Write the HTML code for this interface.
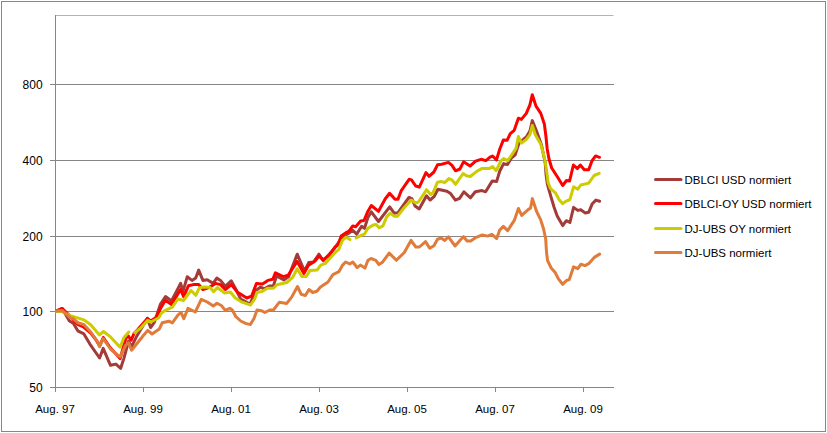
<!DOCTYPE html>
<html><head><meta charset="utf-8"><style>
html,body{margin:0;padding:0;background:#fff;}
body{width:827px;height:433px;overflow:hidden;}
svg{display:block;}
text{font-family:"Liberation Sans",sans-serif;font-size:11.5px;fill:#000;}
</style></head><body>
<svg width="827" height="433" viewBox="0 0 827 433">
<defs><clipPath id="pa"><rect x="55" y="10" width="570" height="380"/></clipPath></defs>
<rect x="1.5" y="1.5" width="824" height="430" fill="#fff" stroke="#878787" stroke-width="1"/>
<line x1="55" y1="15.5" x2="613.5" y2="15.5" stroke="#b4b4b4" stroke-width="1"/>
<g stroke="#868686" stroke-width="1" shape-rendering="crispEdges"><line x1="55" y1="84.5" x2="613.5" y2="84.5"/><line x1="55" y1="160.5" x2="613.5" y2="160.5"/><line x1="55" y1="236.5" x2="613.5" y2="236.5"/><line x1="55" y1="311.5" x2="613.5" y2="311.5"/><line x1="50" y1="84.5" x2="55" y2="84.5"/><line x1="50" y1="160.5" x2="55" y2="160.5"/><line x1="50" y1="236.5" x2="55" y2="236.5"/><line x1="50" y1="311.5" x2="55" y2="311.5"/><line x1="50" y1="387.5" x2="55" y2="387.5"/><line x1="55.5" y1="387" x2="55.5" y2="392"/><line x1="143.5" y1="387" x2="143.5" y2="392"/><line x1="231.5" y1="387" x2="231.5" y2="392"/><line x1="319.5" y1="387" x2="319.5" y2="392"/><line x1="407.5" y1="387" x2="407.5" y2="392"/><line x1="495.5" y1="387" x2="495.5" y2="392"/><line x1="583.5" y1="387" x2="583.5" y2="392"/>
<line x1="55.5" y1="15" x2="55.5" y2="392"/>
<line x1="50" y1="387.5" x2="613.5" y2="387.5"/>
</g>
<g clip-path="url(#pa)" fill="none" stroke-width="3" stroke-linejoin="round" stroke-linecap="round">
<polyline points="55.3,311.5 62.1,308.6 69.4,320.9 73.3,323.3 77.8,330.8 83.9,333.9 89.9,344.1 99.6,358.0 103.2,348.4 110.5,365.3 115.9,364.1 120.7,368.3 123.8,358.6 128.6,341.1 131.6,346.6 137.0,335.7 147.4,318.4 150.6,327.5 154.3,322.4 160.5,304.0 165.5,296.5 171.5,301.0 180.6,283.4 183.0,291.3 187.2,276.8 192.0,280.4 195.7,278.0 198.7,270.1 202.9,280.4 207.2,279.8 213.2,283.4 216.8,278.0 220.5,280.4 225.3,286.4 231.2,280.8 236.0,289.5 240.7,299.2 250.0,304.0 255.8,290.5 260.7,287.1 264.3,288.9 269.7,285.9 273.4,285.9 276.5,276.0 283.8,280.0 288.6,276.7 297.2,254.2 304.5,271.1 308.7,262.6 313.5,262.0 319.0,254.2 323.2,260.8 334.4,248.5 341.2,238.5 346.0,234.6 349.0,233.1 352.8,230.2 356.7,234.1 361.6,226.3 364.5,228.3 367.9,217.6 371.3,211.8 378.5,221.5 389.7,206.9 394.4,213.3 398.0,212.6 408.9,197.5 411.9,198.7 415.0,206.0 419.2,209.0 426.5,195.7 430.1,200.0 434.3,196.3 437.9,189.3 446.9,191.2 450.6,193.6 455.4,200.2 459.6,198.4 463.9,191.8 470.5,197.8 475.3,191.8 482.0,190.6 485.6,191.8 492.3,180.9 496.6,181.6 499.7,171.3 503.6,163.6 507.5,164.5 511.3,158.2 515.2,154.8 519.0,143.1 526.3,137.0 529.9,131.0 532.3,120.6 536.5,131.0 541.5,145.0 545.2,163.0 546.1,175.0 547.4,184.3 551.2,197.6 554.0,207.0 557.2,215.9 562.7,225.6 566.3,220.7 569.9,222.5 573.6,207.4 577.8,210.4 580.8,209.8 585.0,212.9 588.7,212.3 592.3,203.7 595.9,200.1 599.6,201.3" stroke="#A33B38"/><polyline points="55.3,311.5 62.1,308.4 72.3,318.4 78.1,324.7 83.0,326.7 90.7,333.0 96.6,340.7 99.6,346.0 103.3,337.5 110.5,348.0 120.1,358.6 125.8,338.5 128.2,335.8 131.2,340.2 134.2,333.2 137.8,329.6 147.4,318.4 150.6,321.0 156.4,317.3 160.8,307.9 165.4,300.3 171.5,304.6 180.6,289.5 183.6,296.7 188.4,285.8 193.3,284.6 198.7,284.6 202.9,289.5 209.0,287.6 215.6,283.4 220.5,284.6 225.3,289.5 231.3,284.6 237.2,291.9 246.8,298.0 251.6,296.2 256.4,283.5 262.5,284.1 267.9,280.4 272.8,279.2 275.4,272.9 283.3,276.6 288.1,275.3 297.2,261.4 303.9,273.5 308.3,265.5 315.0,261.0 319.0,256.0 323.1,259.8 328.9,255.6 334.6,247.5 338.3,244.5 341.2,236.0 346.0,232.6 349.0,231.2 352.8,225.9 355.7,226.8 360.6,221.0 364.0,220.5 367.4,212.3 371.3,205.5 378.5,211.3 385.3,198.7 389.6,193.3 395.0,199.3 398.0,199.3 401.1,190.9 409.1,179.3 411.5,179.9 415.7,186.0 419.3,187.2 426.0,172.6 429.0,176.3 433.9,172.0 437.5,164.8 441.7,164.2 448.4,162.4 452.0,165.4 455.6,170.8 459.9,169.0 463.5,161.8 470.1,166.0 475.6,161.2 481.0,159.3 485.9,160.6 490.0,157.2 492.5,156.0 496.5,159.9 499.7,149.2 503.3,140.1 507.2,140.2 510.3,133.7 514.2,130.3 518.4,118.2 521.4,119.4 526.3,113.4 529.9,104.9 532.3,94.7 536.0,106.1 540.8,113.4 544.4,124.3 546.0,137.0 547.2,149.0 549.0,159.0 551.7,168.0 557.5,177.0 562.7,185.5 566.5,180.5 569.6,181.0 573.4,165.0 577.4,168.6 580.3,165.0 584.3,169.7 588.7,169.7 591.9,161.0 595.6,155.9 599.5,157.3" stroke="#FF0000"/><polyline points="55.3,311.6 60.7,311.2 71.3,316.0 79.1,318.4 84.0,319.9 90.7,324.7 99.5,334.9 103.5,331.5 110.5,336.9 120.1,347.2 124.0,337.5 128.8,332.0" stroke="#CCCC00"/><polyline points="134.8,332.6 140.5,328.2 147.7,320.2 150.6,322.0 158.6,318.0 161.5,313.0 165.2,310.4 172.3,307.2 178.0,299.0 183.4,300.5 191.0,290.5 195.8,295.3 199.4,287.7 204.7,287.0 210.2,287.6 213.6,291.7 217.5,287.5 224.7,293.1 230.3,292.0 235.3,298.0 242.0,302.2 250.5,305.0 254.6,299.2 257.0,292.5 262.5,291.3 267.3,288.3 273.4,288.3 277.0,284.7 286.8,282.5 292.7,277.4 297.2,268.7 302.0,276.6 306.3,276.6 309.9,270.5 317.2,269.9 320.8,265.1 325.6,263.3 329.3,259.0 335.3,252.4 338.9,249.3 342.4,240.4 346.1,237.2 349.9,239.6" stroke="#CCCC00"/><polyline points="356.2,238.0 361.6,235.1 364.5,234.1 367.9,228.3 373.2,224.9 376.1,224.4 379.0,227.8 382.9,225.9 386.8,216.6 390.2,213.2 394.4,216.2 397.4,216.3 404.1,207.8 411.3,200.0 415.6,203.0 418.6,201.8 426.5,189.7 430.7,194.5 433.1,192.7 437.5,182.2 441.3,181.6 444.9,182.5 448.8,178.6 452.2,180.1 455.5,184.3 463.1,173.5 466.4,175.8 470.3,176.5 476.7,171.3 482.2,168.4 489.5,168.4 492.7,166.6 496.2,170.7 500.8,161.0 503.5,158.5 507.8,160.7 514.2,151.0 516.0,148.6 518.4,136.5 521.4,143.1 526.3,139.5 529.9,134.7 532.3,125.5 535.3,134.7 540.8,144.3 544.4,157.6 546.2,168.0 548.2,183.0 550.6,188.6 555.4,192.8 559.0,199.5 562.7,203.7 565.7,201.3 569.9,199.5 573.6,186.8 577.8,189.2 580.8,185.0 588.7,183.1 594.1,175.5 599.2,173.3" stroke="#CCCC00"/><polyline points="55.3,311.2 62.1,310.4 65.7,313.7 70.6,318.0 73.0,318.3 78.0,322.8 84.0,324.7 90.7,332.0 97.5,341.7 99.6,346.6 103.2,338.7 110.5,349.0 115.3,353.2 120.1,356.8 125.6,345.3 128.6,342.9 131.6,350.2 137.0,343.5 143.4,335.5 147.7,330.4 152.1,334.0 159.3,329.0 162.2,322.8 168.9,321.2 172.3,322.9 178.1,314.8 181.0,312.3 183.8,318.7 188.0,308.4 195.3,312.0 201.3,299.3 207.3,302.0 213.3,306.0 217.0,303.2 221.7,305.8 225.3,310.4 229.8,308.3 232.3,310.0 235.9,316.7 240.7,321.0 245.6,323.4 250.4,324.6 254.0,318.5 257.0,310.0 261.3,310.7 264.9,312.5 269.7,310.0 273.4,310.0 279.4,302.2 286.7,303.4 291.5,297.4 297.5,286.5 301.2,294.3 305.4,295.6 309.0,289.5 312.7,292.5 316.9,291.3 320.5,287.1 325.0,284.0 328.0,282.0 332.9,274.7 338.9,271.7 342.6,265.1 345.6,262.0 349.8,263.9 352.8,262.0 357.1,267.5 360.7,265.1 364.9,268.1 368.0,260.2 371.0,258.5 375.9,260.3 378.9,264.6 382.5,262.2 389.2,253.1 396.4,260.3 404.3,252.5 411.0,240.4 415.8,247.0 419.4,247.0 425.5,241.6 429.7,248.3 433.9,245.8 437.5,239.2 441.2,238.0 444.8,240.4 448.4,236.8 455.1,246.0 460.5,239.8 463.5,236.7 467.1,241.0 470.7,241.0 476.2,237.3 482.2,234.9 487.6,236.1 491.9,234.3 496.7,238.5 499.7,230.1 503.4,226.4 507.6,230.7 514.3,220.4 518.4,208.5 521.7,215.4 527.6,210.1 530.6,208.0 532.4,198.6 536.6,211.5 540.6,219.6 543.6,229.0 545.7,239.0 546.5,252.0 547.6,260.7 551.2,268.0 555.4,272.8 558.4,278.9 562.7,284.3 566.3,280.7 569.3,279.5 573.6,266.8 577.8,268.6 580.8,264.3 585.0,265.6 588.7,263.7 594.7,257.1 599.6,254.1" stroke="#E07B39"/>
</g>
<g><text x="42.6" y="88.6" text-anchor="end" style="font-size:12px">800</text><text x="42.6" y="164.6" text-anchor="end" style="font-size:12px">400</text><text x="42.6" y="240.6" text-anchor="end" style="font-size:12px">200</text><text x="42.6" y="315.6" text-anchor="end" style="font-size:12px">100</text><text x="42.6" y="391.6" text-anchor="end" style="font-size:12px">50</text><text x="55.0" y="413" text-anchor="middle">Aug. 97</text><text x="143.0" y="413" text-anchor="middle">Aug. 99</text><text x="231.0" y="413" text-anchor="middle">Aug. 01</text><text x="319.0" y="413" text-anchor="middle">Aug. 03</text><text x="407.0" y="413" text-anchor="middle">Aug. 05</text><text x="495.0" y="413" text-anchor="middle">Aug. 07</text><text x="583.0" y="413" text-anchor="middle">Aug. 09</text></g>
<g><line x1="655.5" y1="179.5" x2="681" y2="179.5" stroke="#A33B38" stroke-width="3" stroke-linecap="round"/><text x="684.5" y="183.7">DBLCI USD normiert</text><line x1="655.5" y1="203.5" x2="681" y2="203.5" stroke="#FF0000" stroke-width="3" stroke-linecap="round"/><text x="684.5" y="207.7">DBLCI-OY USD normiert</text><line x1="655.5" y1="228.5" x2="681" y2="228.5" stroke="#CCCC00" stroke-width="3" stroke-linecap="round"/><text x="684.5" y="232.7">DJ-UBS OY normiert</text><line x1="655.5" y1="252.5" x2="681" y2="252.5" stroke="#E07B39" stroke-width="3" stroke-linecap="round"/><text x="684.5" y="256.7">DJ-UBS normiert</text></g>
</svg>
</body></html>
